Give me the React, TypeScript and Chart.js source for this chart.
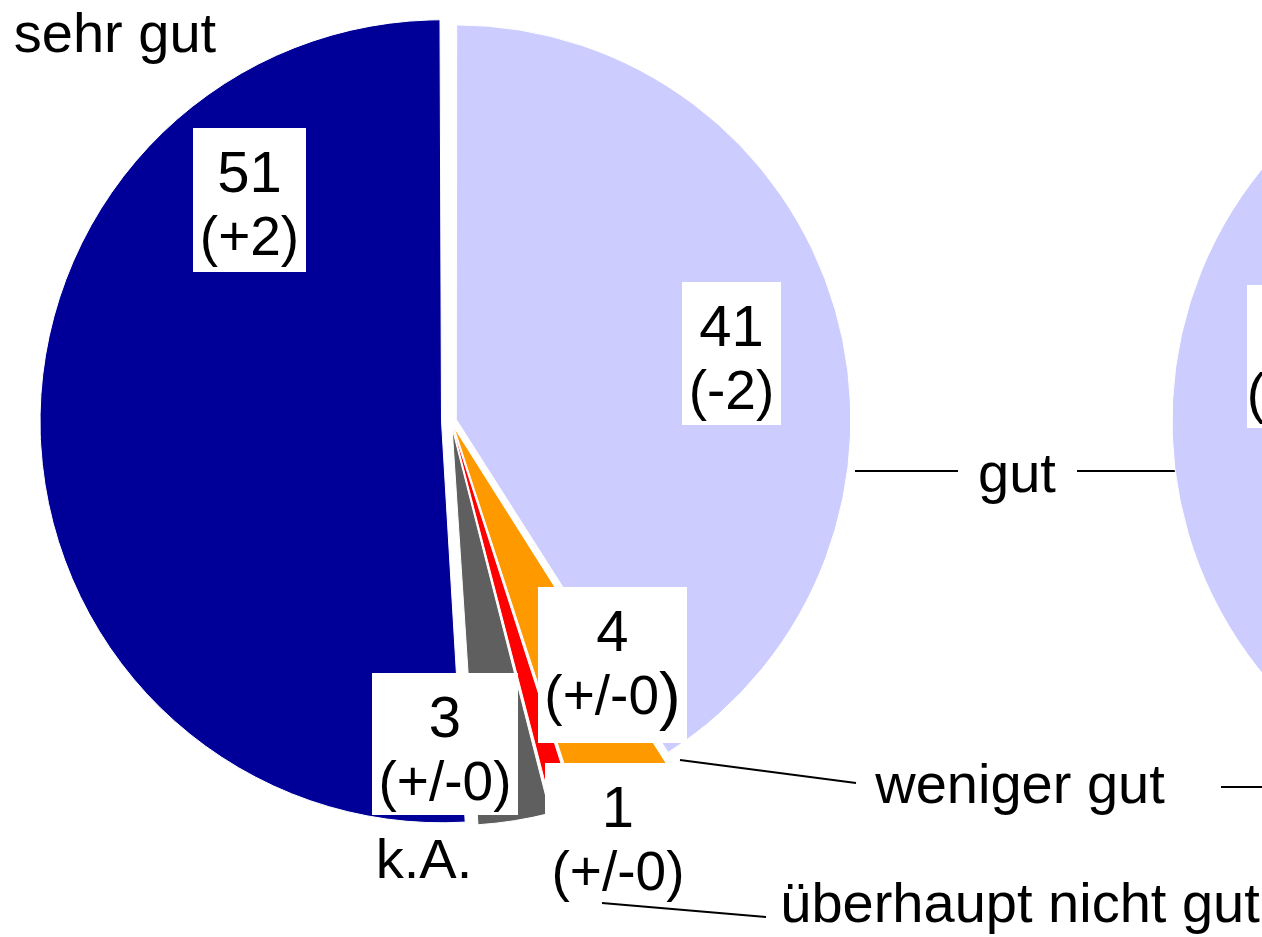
import React, { useEffect, useRef } from 'react';
import { Chart, registerables } from 'chart.js';

Chart.register(...registerables);

// ---------- data ----------
const categories = ['gut', 'weniger gut', 'überhaupt nicht gut', 'k.A.', 'sehr gut'];
const valuesLeft = [41, 4, 1, 3, 51];
const changesLeft = ['(-2)', '(+/-0)', '(+/-0)', '(+/-0)', '(+2)'];
const valuesRight = [43, 4, 1, 2, 50];
const changesRight = ['(+1)', '(-1)', '(+/-0)', '(+/-0)', '(+/-0)'];
const sliceColors = ['#CCCCFF', '#FF9900', '#FF0000', '#5F5F5F', '#000099'];

// ---------- style / layout ----------
const FONT = '"Liberation Sans", Arial, Helvetica, sans-serif';
const VAL_FONT = 58;
const CHG_FONT = 55;
const CAT_FONT = 56;

type Box = { x: number; y: number; w: number; h: number; bigClose?: boolean };
const leftBoxes: Box[] = [
  { x: 682, y: 282, w: 99, h: 143 },
  { x: 538, y: 587, w: 149, h: 156, bigClose: true },
  { x: 545, y: 763, w: 146, h: 143 },
  { x: 372, y: 673, w: 146, h: 142 },
  { x: 193, y: 128, w: 113, h: 144 },
];
const rightBoxes: Box[] = [
  { x: 1247, y: 285, w: 99, h: 143 },
];

const catLabels = [
  { text: categories[4], cx: 115, base: 52 },
  { text: categories[0], cx: 1017, base: 492 },
  { text: categories[1], cx: 1020, base: 803 },
  { text: categories[2], cx: 1020, base: 922 },
  { text: categories[3], cx: 424, base: 878 },
];
const leaderLines = [
  [855, 471, 958, 471],
  [1077, 471, 1180, 471],
  [680, 760, 856, 783],
  [1221, 787, 1262, 787],
  [602, 903, 766, 917],
];

function drawBoxes(ctx: CanvasRenderingContext2D, boxes: Box[], vals: number[], chg: string[], dx: number) {
  ctx.save();
  ctx.textBaseline = 'alphabetic';
  boxes.forEach((b, i) => {
    if (!b) return;
    const x = b.x - dx;
    const cx = x + b.w / 2;
    ctx.fillStyle = '#FFFFFF';
    ctx.fillRect(x, b.y, b.w, b.h);
    ctx.fillStyle = '#000000';
    ctx.textAlign = 'center';
    ctx.font = `${VAL_FONT}px ${FONT}`;
    ctx.fillText(String(vals[i]), cx, b.y + 64);
    ctx.font = `${CHG_FONT}px ${FONT}`;
    if (b.bigClose) {
      const body = chg[i].slice(0, -1);
      const close = chg[i].slice(-1);
      const wBody = ctx.measureText(body).width;
      ctx.font = `${CHG_FONT + 10}px ${FONT}`;
      const wClose = ctx.measureText(close).width;
      const start = cx - (wBody + wClose) / 2;
      ctx.textAlign = 'left';
      ctx.font = `${CHG_FONT}px ${FONT}`;
      ctx.fillText(body, start, b.y + 127);
      ctx.font = `${CHG_FONT + 10}px ${FONT}`;
      ctx.fillText(close, start + wBody, b.y + 131);
    } else {
      ctx.fillText(chg[i], cx, b.y + 127);
    }
  });
  ctx.restore();
}

const leftPlugin = {
  id: 'leftLabels',
  afterDraw(chart: any) {
    const ctx: CanvasRenderingContext2D = chart.ctx;
    drawBoxes(ctx, leftBoxes, valuesLeft, changesLeft, 0);
    ctx.save();
    ctx.strokeStyle = '#000000';
    ctx.lineWidth = 2;
    leaderLines.forEach(([x1, y1, x2, y2]) => {
      ctx.beginPath();
      ctx.moveTo(x1, y1);
      ctx.lineTo(x2, y2);
      ctx.stroke();
    });
    ctx.fillStyle = '#000000';
    ctx.textAlign = 'center';
    ctx.textBaseline = 'alphabetic';
    ctx.font = `${CAT_FONT}px ${FONT}`;
    catLabels.forEach((l) => ctx.fillText(l.text, l.cx, l.base));
    ctx.restore();
  },
};

const RIGHT_LEFT = 1120;
const rightPlugin = {
  id: 'rightLabels',
  afterDraw(chart: any) {
    drawBoxes(chart.ctx, rightBoxes, valuesRight, changesRight, RIGHT_LEFT);
  },
};

export default function App() {
  const leftRef = useRef<HTMLCanvasElement>(null);
  const rightRef = useRef<HTMLCanvasElement>(null);

  useEffect(() => {
    const left = new Chart(leftRef.current!, {
      type: 'pie',
      data: {
        labels: categories,
        datasets: [
          {
            data: valuesLeft,
            backgroundColor: sliceColors,
            borderColor: '#FFFFFF',
            borderWidth: 1,
            offset: [22, 28, 28, 28, 38],
          },
        ],
      },
      options: {
        responsive: false,
        animation: false,
        radius: 392,
        layout: { padding: { left: 0, top: 0, right: 360, bottom: 95 } },
        plugins: { legend: { display: false }, tooltip: { enabled: false } },
      } as any,
      plugins: [leftPlugin],
    });

    // right pie: mirrored order so that "gut" lies on the left side
    const order = [4, 3, 2, 1, 0];
    const right = new Chart(rightRef.current!, {
      type: 'pie',
      data: {
        labels: order.map((i) => categories[i]),
        datasets: [
          {
            data: order.map((i) => valuesRight[i]),
            backgroundColor: order.map((i) => sliceColors[i]),
            borderColor: '#FFFFFF',
            borderWidth: 1,
          },
        ],
      },
      options: {
        responsive: false,
        animation: false,
        radius: 398,
        layout: { padding: { left: 0, top: 0, right: 0, bottom: 95 } },
        plugins: { legend: { display: false }, tooltip: { enabled: false } },
      } as any,
      plugins: [rightPlugin],
    });

    return () => {
      left.destroy();
      right.destroy();
    };
  }, []);

  return (
    <div
      style={{
        position: 'fixed',
        left: 0,
        top: 0,
        width: 1262,
        height: 937,
        overflow: 'hidden',
        background: '#FFFFFF',
      }}
    >
      <canvas
        ref={leftRef}
        width={1262}
        height={937}
        style={{ position: 'absolute', left: 0, top: 0, width: 1262, height: 937 }}
      />
      <canvas
        ref={rightRef}
        width={900}
        height={937}
        style={{ position: 'absolute', left: RIGHT_LEFT, top: 0, width: 900, height: 937 }}
      />
    </div>
  );
}
